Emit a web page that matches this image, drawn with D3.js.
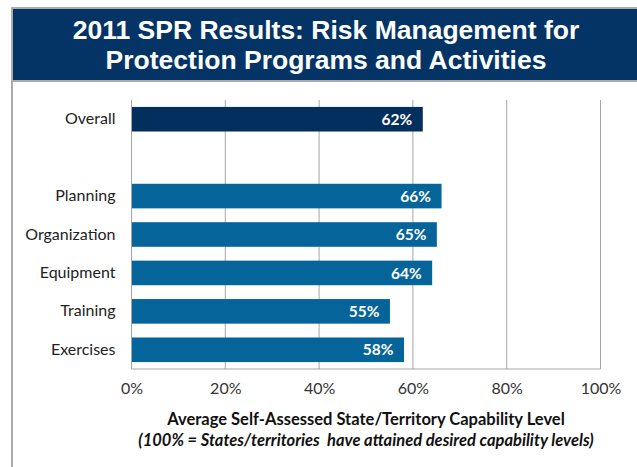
<!DOCTYPE html>
<html>
<head>
<meta charset="utf-8">
<script src="https://cdn.jsdelivr.net/npm/d3@7"></script>
<style>
  body { margin: 0; background: #fff; }
  svg { display: block; }
</style>
</head>
<body>
<svg id="chart" width="637" height="467"></svg>
<script>
// data
const categories = ['Overall', 'Planning', 'Organization', 'Equipment', 'Training', 'Exercises'];
const values = [62, 66, 65, 64, 55, 58];
const ticks = [0, 20, 40, 60, 80, 100];
const titleLines = ['2011 SPR Results: Risk Management for', 'Protection Programs and Activities'];
const axisTitle = 'Average Self-Assessed State/Territory Capability Level';
const axisNote = '(100% = States/territories  have attained desired capability levels)';

const font = 'Lato, "Open Sans", sans-serif';
const svg = d3.select('#chart');

// outer frame + banner
svg.append('rect')
  .attr('x', 12).attr('y', 8)
  .attr('width', 640).attr('height', 480)
  .attr('fill', '#fff')
  .attr('stroke', '#ababab')
  .attr('stroke-width', 2);
svg.append('rect')
  .attr('x', 13).attr('y', 9)
  .attr('width', 630).attr('height', 71)
  .attr('fill', '#033465');
svg.append('line')
  .attr('x1', 12).attr('x2', 637)
  .attr('y1', 81).attr('y2', 81)
  .attr('stroke', '#ababab').attr('stroke-width', 2);

svg.append('g').selectAll('text')
  .data(titleLines)
  .enter()
  .append('text')
  .attr('x', 326)
  .attr('y', (d, i) => 39 + i * 30)
  .attr('text-anchor', 'middle')
  .attr('fill', '#fff')
  .style('font', 'bold 26.5px Arial, "Liberation Sans", sans-serif')
  .text(d => d);

// plot
const margin = { left: 131.5, right: 600.5, top: 100, bottom: 369 };
const rows = [categories[0], '_gap'].concat(categories.slice(1));
const data = categories.map((c, i) => ({ name: c, value: values[i] }));

const x = d3.scaleLinear().domain([0, 100]).range([margin.left, margin.right]);
const y = d3.scaleBand().domain(rows).range([margin.top, margin.bottom]).paddingInner(0.36).paddingOuter(0.18);

// gridlines
svg.append('g').selectAll('line')
  .data(ticks)
  .enter()
  .append('line')
  .attr('x1', d => x(d)).attr('x2', d => x(d))
  .attr('y1', margin.top).attr('y2', margin.bottom)
  .attr('stroke', '#a6a6a6').attr('stroke-width', 1);
svg.append('line')
  .attr('x1', margin.left).attr('x2', margin.right)
  .attr('y1', margin.bottom).attr('y2', margin.bottom)
  .attr('stroke', '#a6a6a6').attr('stroke-width', 1);

// x axis tick labels
const xAxis = d3.axisBottom(x).tickValues(ticks).tickSize(0).tickPadding(14).tickFormat(d => d + '%');
const gx = svg.append('g')
  .attr('transform', `translate(0,${margin.bottom})`)
  .call(xAxis);
gx.select('.domain').remove();
gx.selectAll('text')
  .attr('fill', '#333')
  .style('font', `16px ${font}`);

// y axis labels
const yAxis = d3.axisLeft(y).tickSize(0).tickPadding(16).tickFormat(d => d === '_gap' ? '' : d);
const gy = svg.append('g')
  .attr('transform', `translate(${margin.left},0)`)
  .call(yAxis);
gy.select('.domain').remove();
gy.selectAll('text')
  .attr('fill', '#222')
  .style('font', `16px ${font}`);

// bars
svg.append('g').selectAll('rect')
  .data(data)
  .enter()
  .append('rect')
  .attr('x', x(0) + 0.5)
  .attr('y', d => y(d.name))
  .attr('width', d => x(d.value) - x(0))
  .attr('height', y.bandwidth())
  .attr('fill', (d, i) => i === 0 ? '#022f5e' : '#05659b');

svg.append('g').selectAll('text')
  .data(data)
  .enter()
  .append('text')
  .attr('x', d => x(d.value) - 10)
  .attr('y', d => y(d.name) + y.bandwidth() / 2)
  .attr('dy', '0.36em')
  .attr('text-anchor', 'end')
  .attr('fill', '#fff')
  .style('font', `bold 15.5px ${font}`)
  .text(d => d.value + '%');

// axis titles
svg.append('text')
  .attr('x', 366).attr('y', 425)
  .attr('text-anchor', 'middle')
  .attr('fill', '#111')
  .style('font', `bold 16.5px ${font}`)
  .text(axisTitle);
svg.append('text')
  .attr('x', 366).attr('y', 446)
  .attr('text-anchor', 'middle')
  .attr('fill', '#111')
  .style('font', `italic bold 16.5px ${font}`)
  .style('white-space', 'pre')
  .text(axisNote);
</script>
</body>
</html>
